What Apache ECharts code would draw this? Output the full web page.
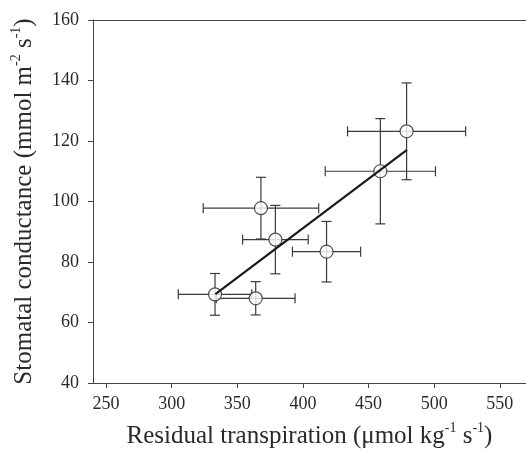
<!DOCTYPE html>
<html>
<head>
<meta charset="utf-8">
<script src="https://cdn.jsdelivr.net/npm/echarts@6/dist/echarts.min.js"></script>
<style>
  html, body { margin: 0; padding: 0; background: #fff; }
  #chart { width: 526px; height: 462px; }
</style>
</head>
<body>
<div id="chart"></div>
<script>
// mean values
const transpiration = [479, 459, 368, 379, 418, 333, 364]
const conductance = [123.2, 110, 97.8, 87.4, 83.4, 69.3, 68]
const transpirationErr = [45, 42, 44, 25, 26, 28, 30]
const conductanceErr = [16, 17.4, 10.2, 11.3, 10, 6.9, 5.5]

// regression line end points
const fitX = [333.3, 479.3]
const fitY = [69.4, 117.1]

const xTicks = [250, 300, 350, 400, 450, 500, 550]

const font = 'Liberation Serif'
const ink = '#2a2a2a'

const chart = echarts.init(document.getElementById('chart'))

const points = transpiration.map((x, i) => [x, conductance[i], transpirationErr[i], conductanceErr[i]])

const renderErrorBars = (params, api) => {
  const x = api.value(0)
  const y = api.value(1)
  const ex = api.value(2)
  const ey = api.value(3)
  const c = api.coord([x, y])
  const top = api.coord([x, y + ey])
  const bot = api.coord([x, y - ey])
  const lft = api.coord([x - ex, y])
  const rgt = api.coord([x + ex, y])
  const cap = 5
  const style = { stroke: '#3a3a3a', lineWidth: 1.2 }
  const seg = (x1, y1, x2, y2) => ({ type: 'line', shape: { x1, y1, x2, y2 }, style })
  return {
    type: 'group',
    children: [
      seg(c[0], top[1], c[0], bot[1]),
      seg(c[0] - cap, top[1], c[0] + cap, top[1]),
      seg(c[0] - cap, bot[1], c[0] + cap, bot[1]),
      seg(lft[0], c[1], rgt[0], c[1]),
      seg(lft[0], c[1] - cap, lft[0], c[1] + cap),
      seg(rgt[0], c[1] - cap, rgt[0], c[1] + cap)
    ]
  }
}

const supRich = {
  base: { fontFamily: font, fontSize: 25, color: ink, verticalAlign: 'bottom', lineHeight: 28 },
  sup: { fontFamily: font, fontSize: 14, color: ink, verticalAlign: 'top', lineHeight: 28 }
}

const axisColor = '#444'

chart.setOption({
  backgroundColor: '#fff',
  animation: false,
  grid: {
    left: 93,
    top: 20,
    right: -3,
    bottom: 79
  },
  xAxis: [
    {
      type: 'value',
      min: 240,
      max: 570,
      name: '{base|Residual transpiration (μmol kg}{sup|-1}{base| s}{sup|-1}{base|)}',
      nameLocation: 'middle',
      nameGap: 38,
      nameTextStyle: { rich: supRich },
      axisLine: { show: true, onZero: false, lineStyle: { color: axisColor, width: 1 } },
      axisTick: { show: true, length: 5, customValues: xTicks, lineStyle: { color: axisColor } },
      axisLabel: { customValues: xTicks, color: ink, fontFamily: font, fontSize: 18, margin: 12 },
      splitLine: { show: false }
    },
    {
      // top frame line only
      type: 'value',
      position: 'top',
      min: 240,
      max: 570,
      axisLine: { show: true, onZero: false, lineStyle: { color: axisColor, width: 1 } },
      axisTick: { show: false },
      axisLabel: { show: false },
      splitLine: { show: false }
    }
  ],
  yAxis: {
    type: 'value',
    min: 40,
    max: 160,
    interval: 20,
    name: '{base|Stomatal conductance (mmol m}{sup|-2}{base| s}{sup|-1}{base|)}',
    nameLocation: 'middle',
    nameGap: 56,
    nameTextStyle: { rich: supRich },
    axisLine: { show: true, onZero: false, lineStyle: { color: axisColor, width: 1 } },
    axisTick: { show: true, length: 5, lineStyle: { color: axisColor } },
    axisLabel: { color: ink, fontFamily: font, fontSize: 18, margin: 14 },
    splitLine: { show: false }
  },
  series: [
    {
      type: 'custom',
      renderItem: renderErrorBars,
      data: points,
      z: 2,
      silent: true
    },
    {
      type: 'scatter',
      data: points.map(p => [p[0], p[1]]),
      symbol: 'circle',
      symbolSize: 13,
      itemStyle: { color: '#fff', borderColor: '#2a2a2a', borderWidth: 1.2 },
      z: 3
    },
    {
      type: 'line',
      data: fitX.map((x, i) => [x, fitY[i]]),
      showSymbol: false,
      lineStyle: { color: '#1a1a1a', width: 2.2 },
      z: 4
    }
  ]
})
</script>
</body>
</html>
